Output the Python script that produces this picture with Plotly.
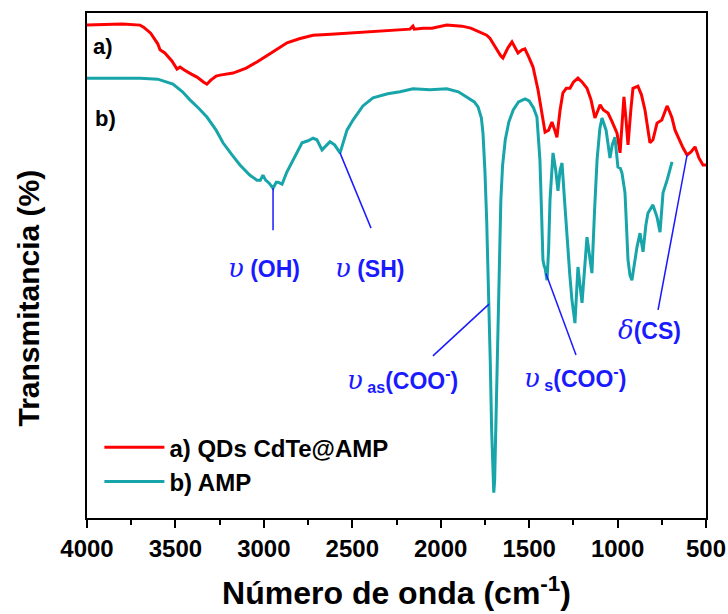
import numpy as np
import plotly.graph_objects as go

# FTIR spectrum (a): QDs CdTe@AMP — wavenumber (cm-1) and transmittance (arb. %)
red_wn = [4000, 3800, 3700, 3680, 3640, 3600, 3587, 3560, 3520, 3491, 3474, 3450, 3410,
          3378, 3340, 3322, 3300, 3270, 3248, 3174, 3100, 3039, 2950, 2869, 2800, 2722,
          2620, 2530, 2430, 2343, 2260, 2174, 2157, 2150, 2100, 2050, 1966, 1880, 1830,
          1778, 1740, 1722, 1690, 1660, 1648, 1620, 1597, 1580, 1563, 1540, 1524, 1500,
          1478, 1450, 1410, 1390, 1371, 1355, 1343, 1325, 1309, 1290, 1269, 1250, 1224,
          1200, 1173, 1150, 1128, 1110, 1099, 1080, 1054, 1030, 1003, 986, 975, 964, 952,
          941, 925, 913, 885, 865, 845, 817, 800, 777, 750, 720, 705, 692, 675, 658, 630,
          607, 585, 562, 540, 517, 500]
red_t = [97.6, 97.8, 97.6, 97.2, 96.0, 93.9, 92.7, 92.1, 90.5, 88.9, 89.3, 88.7, 87.9,
         87.3, 86.3, 85.9, 86.7, 87.5, 87.7, 88.1, 89.1, 90.3, 92.3, 94.1, 94.9, 95.6,
         95.8, 96.0, 96.2, 96.4, 96.6, 96.8, 97.4, 96.8, 97.0, 97.0, 97.6, 97.4, 97.0,
         96.2, 95.6, 95.0, 93.1, 91.5, 91.1, 93.1, 94.3, 93.1, 92.1, 92.7, 92.9, 91.1,
         89.3, 84.8, 76.4, 76.8, 78.4, 76.8, 75.4, 80.8, 84.2, 85.1, 85.1, 86.3, 87.1,
         86.3, 85.1, 82.8, 79.2, 80.8, 81.8, 80.8, 80.2, 78.4, 76.2, 72.3, 78.8, 83.4, 78.8,
         73.9, 80.8, 85.1, 85.5, 83.8, 80.8, 74.3, 74.9, 78.2, 78.8, 81.6, 80.4, 79.2, 76.8,
         75.4, 73.3, 71.9, 72.5, 73.5, 71.3, 69.9, 69.9]

# FTIR spectrum (b): AMP
teal_wn = [4000, 3700, 3600, 3560, 3514, 3460, 3418, 3370, 3322, 3270, 3231, 3180, 3135,
           3080, 3039, 3020, 3005, 2990, 2970, 2948, 2930, 2920, 2897, 2870, 2835, 2784,
           2750, 2722, 2700, 2671, 2626, 2600, 2569, 2530, 2496, 2440, 2383, 2300, 2230,
           2174, 2157, 2060, 1966, 1900, 1851, 1810, 1789, 1770, 1761, 1750, 1740, 1730,
           1720, 1712, 1705, 1700, 1695, 1688, 1680, 1670, 1660, 1650, 1635, 1615, 1590,
           1560, 1540, 1523, 1500, 1475, 1456, 1445, 1439, 1430, 1422, 1415, 1410, 1399,
           1390, 1382, 1365, 1350, 1337, 1325, 1314, 1300, 1286, 1270, 1258, 1241, 1224,
           1212, 1201, 1173, 1160, 1145, 1130, 1116, 1100, 1088, 1065, 1043, 1030, 1015,
           998, 985, 975, 958, 941, 930, 919, 905, 890, 873, 856, 840, 828, 800, 777, 760,
           743, 720, 692]
teal_t = [87.1, 87.1, 86.9, 86.5, 85.9, 84.4, 82.8, 81.2, 79.4, 76.8, 74.3, 71.9, 69.9,
          67.9, 66.9, 66.9, 67.9, 66.9, 66.3, 65.3, 66.5, 66.5, 66.1, 68.5, 70.9, 74.3,
          74.7, 75.2, 74.9, 72.9, 74.5, 73.9, 72.3, 76.8, 78.8, 81.6, 83.2, 84.0, 84.4,
          84.8, 85.0, 84.8, 85.0, 84.4, 83.4, 82.4, 81.4, 79.2, 76.2, 68.7, 58.8, 47.1,
          31.3, 17.4, 8.5, 5.0, 7.5, 19.4, 35.2, 51.1, 63.0, 69.9, 74.9, 78.4, 80.8,
          82.4, 82.8, 83.0, 82.6, 81.2, 79.4, 74.9, 70.9, 60.8, 51.1, 49.9, 49.5, 47.1,
          53.1, 63.0, 72.3, 68.9, 64.8, 68.9, 70.3, 63.0, 55.6, 48.1, 43.2, 38.6, 49.7,
          46.1, 42.6, 55.6, 52.1, 48.5, 61.0, 70.9, 77.2, 79.2, 76.8, 71.3, 73.9, 75.4,
          69.5, 69.3, 68.3, 64.4, 51.1, 48.1, 47.1, 50.7, 53.7, 56.4, 52.7, 58.0, 60.4,
          62.0, 59.6, 56.6, 64.4, 66.9, 70.5]

series_names = ["a) QDs CdTe@AMP", "b) AMP"]
series_colors = ["#ff0000", "#17a5a9"]

x_ticks = [4000, 3500, 3000, 2500, 2000, 1500, 1000, 500]

# Band assignments: band position, spectrum it points to, leader end and label position
band_wn = [2948, 2570, 1727, 1405, 607]
band_curve = ["b", "b", "b", "b", "a"]
band_end_wn = [2948, 2394, 2044, 1235, 771]
band_end_t = [57.0, 57.4, 32.1, 32.3, 41.2]
band_label_wn = [3000, 2400, 2218, 1240, 822]
band_label_t = [49.5, 49.5, 27.3, 27.7, 37.2]

GREEK = ("<span style=\"font-family:'DejaVu Serif';font-style:italic;"
         "font-weight:normal;font-size:26px\">{}</span>")
band_labels = [
    GREEK.format("υ") + " (OH)",
    GREEK.format("υ") + " (SH)",
    GREEK.format("υ") + "<sub> as</sub>(COO<sup>-</sup>)",
    GREEK.format("υ") + "<sub> s</sub>(COO<sup>-</sup>)",
    GREEK.format("δ") + "(CS)",
]

BLUE = "#1a1aff"
FONT = "Liberation Sans, Arial, sans-serif"

fig = go.Figure()
fig.add_trace(go.Scatter(x=red_wn, y=red_t, mode="lines", name=series_names[0],
                         line=dict(color=series_colors[0], width=3)))
fig.add_trace(go.Scatter(x=teal_wn, y=teal_t, mode="lines", name=series_names[1],
                         line=dict(color=series_colors[1], width=3)))

curves = {"a": (red_wn, red_t), "b": (teal_wn, teal_t)}
for wn, cv, ex, ey, lx, ly, txt in zip(band_wn, band_curve, band_end_wn, band_end_t,
                                        band_label_wn, band_label_t, band_labels):
    cw, ct = curves[cv]
    y0 = float(np.interp(wn, cw[::-1], ct[::-1]))
    fig.add_shape(type="line", xref="x", yref="y", x0=wn, y0=y0, x1=ex, y1=ey,
                  line=dict(color=BLUE, width=1.5))
    fig.add_annotation(x=lx, y=ly, xref="x", yref="y", text="<b>" + txt + "</b>",
                       showarrow=False, font=dict(family=FONT, size=23, color=BLUE))

# Spectrum tags
for tag, tx, ty in [("a)", 3910, 93.3), ("b)", 3898, 79.2)]:
    fig.add_annotation(x=tx, y=ty, xref="x", yref="y", text="<b>" + tag + "</b>",
                       showarrow=False, font=dict(family=FONT, size=22, color="black"))

# Vertical axis title
fig.add_annotation(x=-0.095, y=0.435, xref="paper", yref="paper", xanchor="center",
                   yanchor="middle", textangle=-90, showarrow=False,
                   text="<b>Transmitancia (%)</b>",
                   font=dict(family=FONT, size=30, color="black"))

fig.update_layout(
    width=728, height=614,
    margin=dict(l=87, r=22, t=13, b=96),
    paper_bgcolor="white", plot_bgcolor="white",
    font=dict(family=FONT, color="black"),
    showlegend=True,
    legend=dict(x=0.02, y=0.184, xanchor="left", yanchor="top",
                bgcolor="rgba(0,0,0,0)", font=dict(family=FONT, size=24, weight=700),
                itemwidth=60, tracegroupgap=0),
    xaxis=dict(
        range=[4000, 500], tickvals=x_ticks, ticktext=[str(v) for v in x_ticks],
        ticks="outside", ticklen=8, tickwidth=2, tickcolor="black",
        minor=dict(dtick=250, ticks="outside", ticklen=5, tickwidth=2, tickcolor="black"),
        showline=True, linecolor="black", linewidth=2, mirror=True,
        showgrid=False, zeroline=False, automargin=False,
        tickfont=dict(family=FONT, size=24, weight=700),
        title=dict(text="Número de onda (cm<sup>-1</sup>)", standoff=21,
                   font=dict(family=FONT, size=32, weight=700)),
    ),
    yaxis=dict(
        range=[0, 100], showticklabels=False, ticks="",
        showline=True, linecolor="black", linewidth=2, mirror=True,
        showgrid=False, zeroline=False, automargin=False,
    ),
)

fig.write_html("out.html")
